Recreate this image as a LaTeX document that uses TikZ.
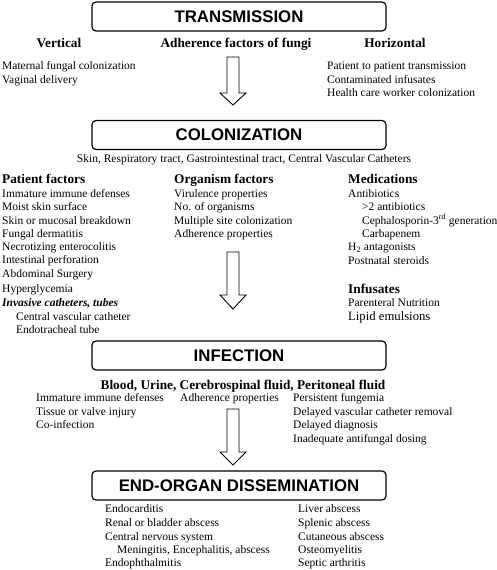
\documentclass[tikz,border=0pt]{standalone}
\usepackage{fontspec}
\setmainfont{Liberation Serif}
\setsansfont{Liberation Sans}
\usetikzlibrary{positioning}

\tikzset{
  stage/.style={draw, rounded corners=4pt, line width=1.2pt, minimum width=294pt,
    minimum height=29pt, inner sep=0pt, font=\sffamily\bfseries\fontsize{16.8}{19}\selectfont},
  head/.style={inner sep=0pt, font=\bfseries\fontsize{13.3}{15}\selectfont},
  item/.style={anchor=base west, inner sep=0pt, font=\fontsize{11.5}{13}\selectfont},
  bigarrow/.style={draw, line width=0.9pt, fill=white},
}

\begin{document}
\begin{tikzpicture}[x=1pt, y=-1pt]
  \useasboundingbox (0,0) rectangle (497,570);

  % stages
  \node[stage] (trans) at (239,16.5) {TRANSMISSION};
  \node[stage] (colon) at (239,135) {COLONIZATION};
  \node[stage] (infect) at (239,355.5) {INFECTION};
  \node[stage] (dissem) at (239,485.5) {END-ORGAN DISSEMINATION};

  % arrows between stages
  \foreach \ya/\yb/\yc [count=\i] in {57/93/105, 252/295/309, 409/452/465} {
    \coordinate (arr\i) at (233,\ya);
    \coordinate (tip\i) at (233,\yc);
    \draw[bigarrow] (arr\i) ++(-6,0) -- ++(12,0) -- ++(0,\yb-\ya) -- ++(7,0)
      -- (tip\i) -- ++(-13,\yb-\yc) -- ++(7,0) -- cycle;
  }

  % transmission
  \node[head, anchor=base] (vert) at (59,47.5) {Vertical};
  \node[head, anchor=base] (adhf) at (236,47.5) {Adherence factors of fungi};
  \node[head, anchor=base] (horiz) at (395,47.5) {Horizontal};
  \node[item] (vert1) at (2,69.5) {Maternal fungal colonization};
  \node[item] (vert2) at (2,83) {Vaginal delivery};
  \node[item] (hor1) at (327,69.5) {Patient to patient transmission};
  \node[item] (hor2) at (327,83) {Contaminated infusates};
  \node[item] (hor3) at (327,96.5) {Health care worker colonization};

  % colonization
  \node[item, anchor=base] (sites) at (244,162.5)
    {Skin, Respiratory tract, Gastrointestinal tract, Central Vascular Catheters};
  \node[head, anchor=base west] (patf) at (2,183.5) {Patient factors};
  \node[head, anchor=base west] (orgf) at (174,183.5) {Organism factors};
  \node[head, anchor=base west] (meds) at (348,183.5) {Medications};
  \foreach \y/\x/\txt [count=\i] in {197/2/Immature immune defenses, 210.5/2/Moist skin surface,
      224/2/Skin or mucosal breakdown, 237/2/Fungal dermatitis, 250.5/2/Necrotizing enterocolitis,
      263.5/2/Intestinal perforation, 277.5/2/Abdominal Surgery, 292.5/2/Hyperglycemia,
      306.5/2/{\textbf{\textit{Invasive catheters, tubes}}},
      320/16/Central vascular catheter, 333/16/Endotracheal tube}
    \node[item] (pat\i) at (\x,\y) {\txt};
  \foreach \y/\txt [count=\i] in {197/Virulence properties, 210.5/No. of organisms,
      224/Multiple site colonization, 237.5/Adherence properties}
    \node[item] (org\i) at (174,\y) {\txt};
  \foreach \y/\x/\txt [count=\i] in {197/348/Antibiotics, 210.5/362/>2 antibiotics,
      224/362/Cephalosporin-3\textsuperscript{rd} generation, 237.5/362/Carbapenem,
      250.5/348/H\textsubscript{2} antagonists, 264/348/Postnatal steroids}
    \node[item] (med\i) at (\x,\y) {\txt};
  \node[head, anchor=base west] (infus) at (348,293) {Infusates};
  \node[item] (inf1) at (348,306.5) {Parenteral Nutrition};
  \node[item, font=\fontsize{12.7}{14}\selectfont] (inf2) at (348,320.5) {Lipid emulsions};

  % infection
  \node[head, anchor=base] (fluids) at (243,389.5)
    {Blood, Urine, Cerebrospinal fluid, Peritoneal fluid};
  \foreach \y/\txt [count=\i] in {401.5/Immature immune defenses, 415/Tissue or valve injury,
      428.5/Co-infection}
    \node[item] (host\i) at (36,\y) {\txt};
  \node[item] (adhp) at (180,401.5) {Adherence properties};
  \foreach \y/\txt [count=\i] in {401.5/Persistent fungemia, 415/Delayed vascular catheter removal,
      428.5/Delayed diagnosis, 442/Inadequate antifungal dosing}
    \node[item] (risk\i) at (293,\y) {\txt};

  % end-organ dissemination
  \foreach \y/\x/\txt [count=\i] in {512.5/105/Endocarditis, 526.5/105/Renal or bladder abscess,
      540/105/Central nervous system, 553/117/{Meningitis, Encephalitis, abscess},
      566.5/105/Endophthalmitis}
    \node[item] (dis\i) at (\x,\y) {\txt};
  \foreach \y/\txt [count=\i] in {512.5/Liver abscess, 526.5/Splenic abscess,
      540/Cutaneous abscess, 553/Osteomyelitis, 566.5/Septic arthritis}
    \node[item] (abs\i) at (298,\y) {\txt};
\end{tikzpicture}
\end{document}
